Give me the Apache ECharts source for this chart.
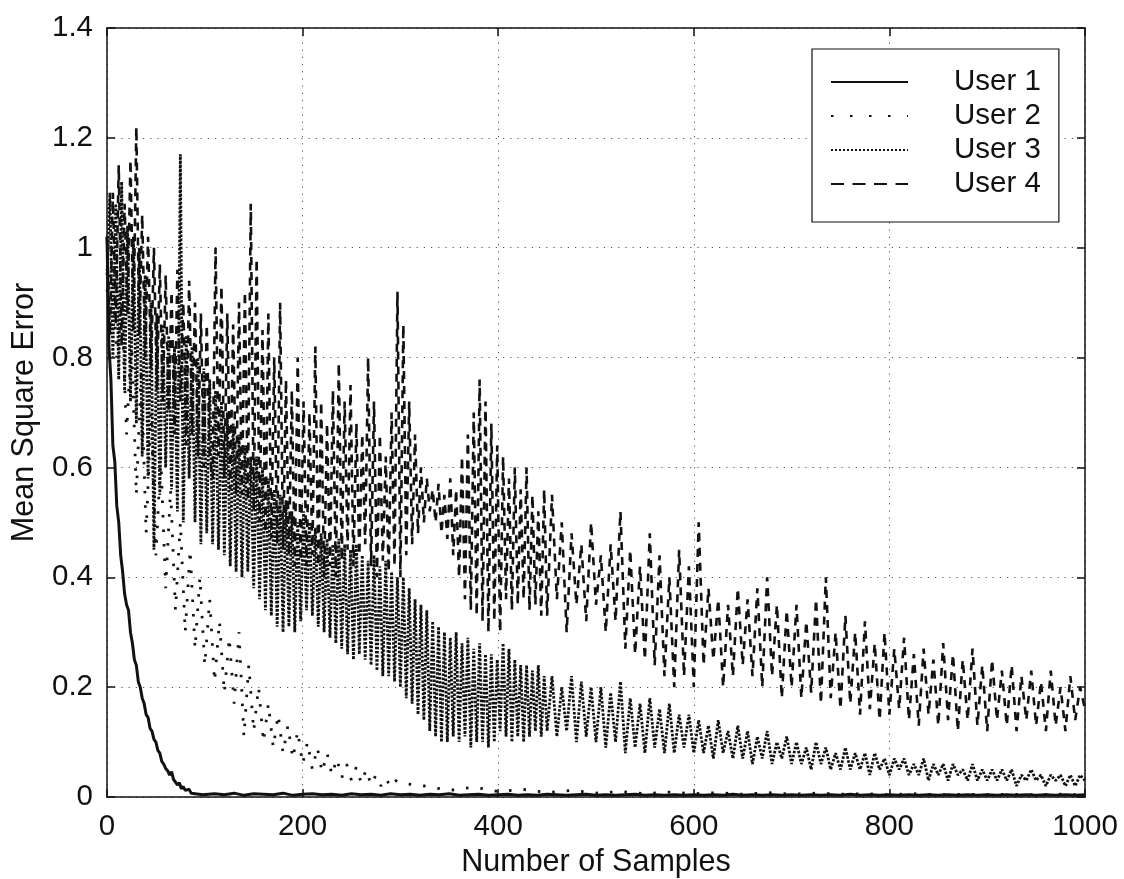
<!DOCTYPE html>
<html>
<head>
<meta charset="utf-8">
<script src="https://cdn.jsdelivr.net/npm/echarts@6/dist/echarts.min.js"></script>
<style>
  html, body { margin: 0; padding: 0; background: #fff; }
  #chart { width: 1124px; height: 879px; }
</style>
</head>
<body>
<div id="chart"></div>
<script>
// Axis ticks
const xTicks = [0, 200, 400, 600, 800, 1000];
const yTicks = [0, 0.2, 0.4, 0.6, 0.8, 1, 1.2, 1.4];

// User 1: samples 0..100 every 2, then 110..1000 every 10
const user1Early = [
  1.02, 0.82, 0.76, 0.64, 0.61, 0.53, 0.50, 0.44, 0.41, 0.37,
  0.35, 0.34, 0.30, 0.28, 0.25, 0.24, 0.21, 0.20, 0.18, 0.17,
  0.15, 0.145, 0.125, 0.12, 0.105, 0.10, 0.085, 0.08, 0.065, 0.06,
  0.052, 0.048, 0.040, 0.046, 0.032, 0.030, 0.022, 0.026, 0.015, 0.019,
  0.012, 0.010, 0.014, 0.007, 0.010, 0.006, 0.009, 0.005, 0.008, 0.004,
  0.006
];
const user1Late = [
  0.006, 0.004, 0.007, 0.003, 0.006, 0.005, 0.004, 0.007, 0.003, 0.005,
  0.006, 0.004, 0.005, 0.003, 0.006, 0.004, 0.005, 0.003, 0.006, 0.004,
  0.005, 0.003, 0.005, 0.004, 0.006, 0.003, 0.004, 0.005, 0.003, 0.004,
  0.005, 0.003, 0.004, 0.003, 0.005, 0.004, 0.003, 0.004, 0.005, 0.003,
  0.004, 0.003, 0.004, 0.005, 0.003, 0.004, 0.003, 0.004, 0.003, 0.004,
  0.003, 0.004, 0.003, 0.005, 0.003, 0.004, 0.003, 0.004, 0.003, 0.004,
  0.003, 0.004, 0.003, 0.004, 0.003, 0.005, 0.003, 0.004, 0.003, 0.004,
  0.003, 0.004, 0.003, 0.004, 0.003, 0.004, 0.003, 0.004, 0.003, 0.004,
  0.003, 0.004, 0.003, 0.004, 0.003, 0.004, 0.003, 0.004, 0.003, 0.004
];

// User 2: samples 0..300 every 5, then 325..1000 every 25
const user2Early = [
  0.92, 0.98, 0.80, 0.90, 0.66, 0.84, 0.55, 0.78, 0.48, 0.70,
  0.44, 0.62, 0.38, 0.56, 0.34, 0.50, 0.30, 0.45, 0.27, 0.40,
  0.24, 0.36, 0.21, 0.32, 0.19, 0.29, 0.17, 0.30, 0.11, 0.24,
  0.12, 0.20, 0.10, 0.17, 0.09, 0.15, 0.08, 0.13, 0.07, 0.12,
  0.06, 0.10, 0.05, 0.09, 0.045, 0.08, 0.04, 0.07, 0.035, 0.06,
  0.03, 0.055, 0.025, 0.05, 0.022, 0.04, 0.02, 0.035, 0.018, 0.03,
  0.025
];
const user2Late = [
  0.020, 0.012, 0.018, 0.010, 0.014, 0.008, 0.012, 0.007, 0.010, 0.006,
  0.009, 0.006, 0.008, 0.005, 0.008, 0.005, 0.007, 0.005, 0.006, 0.004,
  0.006, 0.004, 0.005, 0.004, 0.005, 0.004, 0.005, 0.004
];

// User 3: samples 0..447 every 3, then 450..1000 every 5
const user3Early = [
  0.95, 1.10, 0.80, 1.08, 0.76, 1.12, 0.74, 1.04, 0.72, 1.02,
  0.68, 1.00, 0.62, 0.95, 0.58, 0.90, 0.45, 0.88, 0.55, 0.86,
  0.60, 0.84, 0.56, 0.82, 0.52, 1.17, 0.50, 0.84, 0.58, 0.82,
  0.50, 0.80, 0.46, 0.78, 0.48, 0.76, 0.46, 0.74, 0.45, 0.72,
  0.44, 0.70, 0.42, 0.68, 0.41, 0.66, 0.40, 0.64, 0.41, 0.62,
  0.38, 0.62, 0.36, 0.60, 0.34, 0.58, 0.33, 0.56, 0.31, 0.55,
  0.30, 0.54, 0.31, 0.52, 0.30, 0.50, 0.32, 0.52, 0.34, 0.50,
  0.33, 0.49, 0.31, 0.48, 0.30, 0.47, 0.29, 0.46, 0.28, 0.47,
  0.27, 0.46, 0.26, 0.45, 0.25, 0.46, 0.26, 0.44, 0.25, 0.43,
  0.24, 0.44, 0.23, 0.42, 0.22, 0.43, 0.22, 0.41, 0.21, 0.40,
  0.20, 0.40, 0.18, 0.38, 0.17, 0.36, 0.15, 0.35, 0.14, 0.34,
  0.12, 0.32, 0.11, 0.31, 0.10, 0.30, 0.10, 0.29, 0.11, 0.30,
  0.10, 0.28, 0.11, 0.29, 0.09, 0.27, 0.10, 0.28, 0.10, 0.26,
  0.09, 0.26, 0.10, 0.25, 0.12, 0.28, 0.11, 0.27, 0.10, 0.25,
  0.11, 0.24, 0.10, 0.24, 0.11, 0.23, 0.12, 0.24, 0.11, 0.22
];
const user3Late = [
  0.12, 0.22, 0.11, 0.20, 0.12, 0.22, 0.10, 0.21, 0.11, 0.20,
  0.10, 0.20, 0.09, 0.19, 0.10, 0.21, 0.08, 0.18, 0.09, 0.17,
  0.08, 0.18, 0.09, 0.16, 0.08, 0.17, 0.08, 0.15, 0.09, 0.15,
  0.08, 0.14, 0.08, 0.13, 0.07, 0.14, 0.08, 0.12, 0.07, 0.13,
  0.07, 0.12, 0.06, 0.11, 0.07, 0.12, 0.06, 0.10, 0.07, 0.11,
  0.06, 0.10, 0.06, 0.09, 0.05, 0.10, 0.06, 0.09, 0.05, 0.08,
  0.05, 0.09, 0.05, 0.08, 0.05, 0.08, 0.04, 0.08, 0.05, 0.07,
  0.04, 0.07, 0.05, 0.07, 0.04, 0.06, 0.04, 0.07, 0.03, 0.06,
  0.04, 0.06, 0.03, 0.06, 0.04, 0.05, 0.03, 0.06, 0.03, 0.05,
  0.03, 0.05, 0.03, 0.05, 0.03, 0.05, 0.02, 0.04, 0.03, 0.05,
  0.03, 0.04, 0.02, 0.04, 0.03, 0.04, 0.02, 0.04, 0.02, 0.04,
  0.03
];

// User 4: samples 0..447 every 3, then 450..1000 every 5
const user4Early = [
  1.02, 0.84, 1.10, 0.86, 1.15, 0.82, 1.08, 0.88, 1.16, 0.85,
  1.22, 0.84, 1.06, 0.80, 1.02, 0.78, 1.00, 0.74, 0.97, 0.72,
  0.95, 0.70, 0.92, 0.66, 0.96, 0.72, 0.90, 0.64, 0.94, 0.66,
  0.90, 0.62, 0.88, 0.60, 0.86, 0.62, 0.58, 1.00, 0.62, 0.93,
  0.58, 0.88, 0.56, 0.86, 0.55, 0.90, 0.55, 0.92, 0.54, 1.08,
  0.52, 0.98, 0.50, 0.85, 0.48, 0.88, 0.47, 0.80, 0.46, 0.90,
  0.45, 0.76, 0.44, 0.74, 0.42, 0.80, 0.43, 0.72, 0.42, 0.70,
  0.44, 0.82, 0.42, 0.72, 0.40, 0.68, 0.42, 0.74, 0.40, 0.79,
  0.43, 0.72, 0.45, 0.75, 0.42, 0.68, 0.44, 0.66, 0.46, 0.80,
  0.42, 0.72, 0.40, 0.66, 0.43, 0.62, 0.41, 0.70, 0.42, 0.92,
  0.40, 0.86, 0.44, 0.72, 0.46, 0.66, 0.48, 0.60, 0.50, 0.58,
  0.52, 0.56, 0.50, 0.57, 0.48, 0.55, 0.47, 0.58, 0.44, 0.56,
  0.40, 0.62, 0.36, 0.66, 0.34, 0.70, 0.33, 0.76, 0.32, 0.72,
  0.30, 0.68, 0.32, 0.64, 0.30, 0.62, 0.36, 0.58, 0.34, 0.60,
  0.35, 0.56, 0.36, 0.60, 0.34, 0.55, 0.35, 0.52, 0.33, 0.56
];
const user4Late = [
  0.33, 0.55, 0.36, 0.50, 0.30, 0.48, 0.35, 0.46, 0.32, 0.50,
  0.35, 0.44, 0.30, 0.46, 0.32, 0.52, 0.27, 0.45, 0.26, 0.42,
  0.25, 0.48, 0.24, 0.44, 0.22, 0.40, 0.20, 0.45, 0.22, 0.42,
  0.20, 0.50, 0.24, 0.38, 0.25, 0.36, 0.20, 0.35, 0.22, 0.38,
  0.24, 0.36, 0.22, 0.38, 0.20, 0.40, 0.22, 0.35, 0.18, 0.34,
  0.20, 0.35, 0.18, 0.32, 0.19, 0.36, 0.17, 0.40, 0.18, 0.30,
  0.16, 0.33, 0.17, 0.30, 0.15, 0.32, 0.16, 0.28, 0.14, 0.30,
  0.15, 0.27, 0.16, 0.29, 0.14, 0.26, 0.13, 0.27, 0.15, 0.25,
  0.13, 0.28, 0.14, 0.26, 0.12, 0.25, 0.14, 0.27, 0.13, 0.24,
  0.12, 0.25, 0.14, 0.23, 0.13, 0.24, 0.12, 0.22, 0.14, 0.23,
  0.13, 0.21, 0.12, 0.23, 0.13, 0.20, 0.12, 0.22, 0.14, 0.20,
  0.16
];

const seriesNames = ['User 1', 'User 2', 'User 3', 'User 4'];

// Turn evenly spaced values into [sample, value] pairs
function toPoints(start, step, values) {
  return values.map((v, i) => [start + i * step, v]);
}

const FONT = 'Liberation Sans, Arial, Helvetica, sans-serif';
const INK = '#111';

const chart = echarts.init(document.getElementById('chart'), null, { renderer: 'canvas' });

const baseLine = (type, width) => ({
  type: 'line',
  symbol: 'none',
  showSymbol: false,
  animation: false,
  silent: true,
  lineStyle: { color: INK, width: width, type: type, cap: 'butt' },
  itemStyle: { color: INK }
});

const fmt = v => String(Math.round(v * 10) / 10);

const sideAxis = extra => Object.assign({
  type: 'value',
  axisLine: { show: true, onZero: false, lineStyle: { color: INK, width: 1.5 } },
  axisTick: { show: true, inside: true, length: 8, lineStyle: { color: INK, width: 1.5 } },
  axisLabel: { show: false },
  splitLine: { show: false }
}, extra);

chart.setOption({
  backgroundColor: '#fff',
  animation: false,
  grid: {
    left: 107, top: 28, right: 39, bottom: 82,
    containLabel: false,
    outerBoundsMode: 'none'
  },
  legend: {
    orient: 'vertical',
    left: 812,
    top: 49,
    padding: [18, 18, 23, 18],
    itemWidth: 77,
    itemHeight: 14,
    itemGap: 4,
    backgroundColor: '#fff',
    borderColor: INK,
    borderWidth: 1.2,
    borderRadius: 0,
    selectedMode: false,
    itemStyle: { opacity: 0, borderWidth: 0 },
    textStyle: {
      fontFamily: FONT, fontSize: 29.5, color: INK,
      lineHeight: 28, padding: [0, 0, 0, 41]
    },
    data: [
      { name: seriesNames[0] },
      { name: seriesNames[1], lineStyle: { type: [2.5, 16.5] } },
      { name: seriesNames[2], lineStyle: { type: [2, 2] } },
      { name: seriesNames[3], lineStyle: { type: [13, 8.5] } }
    ]
  },
  xAxis: [{
    type: 'value', min: 0, max: 1000, interval: 200,
    name: 'Number of Samples', nameLocation: 'middle', nameGap: 46,
    nameTextStyle: { fontFamily: FONT, fontSize: 30.5, color: INK },
    axisLine: { show: true, onZero: false, lineStyle: { color: INK, width: 1.5 } },
    axisTick: { show: true, inside: true, length: 8, lineStyle: { color: INK, width: 1.5 } },
    axisLabel: { fontFamily: FONT, fontSize: 29.5, color: INK, margin: 15,
      customValues: xTicks, formatter: v => String(v) },
    splitLine: { show: true, lineStyle: { color: '#555', width: 1, type: [1.2, 6] } }
  }, sideAxis({ min: 0, max: 1000, interval: 200, position: 'top' })],
  yAxis: [{
    type: 'value', min: 0, max: 1.4, interval: 0.2,
    name: 'Mean Square Error', nameLocation: 'middle', nameGap: 67,
    nameTextStyle: { fontFamily: FONT, fontSize: 30.5, color: INK },
    axisLine: { show: true, onZero: false, lineStyle: { color: INK, width: 1.5 } },
    axisTick: { show: true, inside: true, length: 8, lineStyle: { color: INK, width: 1.5 } },
    axisLabel: { fontFamily: FONT, fontSize: 29.5, color: INK, margin: 14,
      customValues: yTicks, formatter: fmt },
    splitLine: { show: true, lineStyle: { color: '#555', width: 1, type: [1.2, 6] } }
  }, sideAxis({ min: 0, max: 1.4, interval: 0.2, position: 'right' })],
  series: [
    Object.assign(baseLine('solid', 3), {
      name: seriesNames[0],
      data: toPoints(0, 2, user1Early).concat(toPoints(110, 10, user1Late))
    }),
    Object.assign(baseLine([2.5, 12], 2.8), {
      name: seriesNames[1],
      data: toPoints(0, 5, user2Early).concat(toPoints(325, 25, user2Late))
    }),
    Object.assign(baseLine([2.5, 1.6], 2.8), {
      name: seriesNames[2],
      data: toPoints(0, 3, user3Early).concat(toPoints(450, 5, user3Late))
    }),
    Object.assign(baseLine([8, 7], 2.6), {
      name: seriesNames[3],
      data: toPoints(0, 3, user4Early).concat(toPoints(450, 5, user4Late))
    })
  ]
});
</script>
</body>
</html>
